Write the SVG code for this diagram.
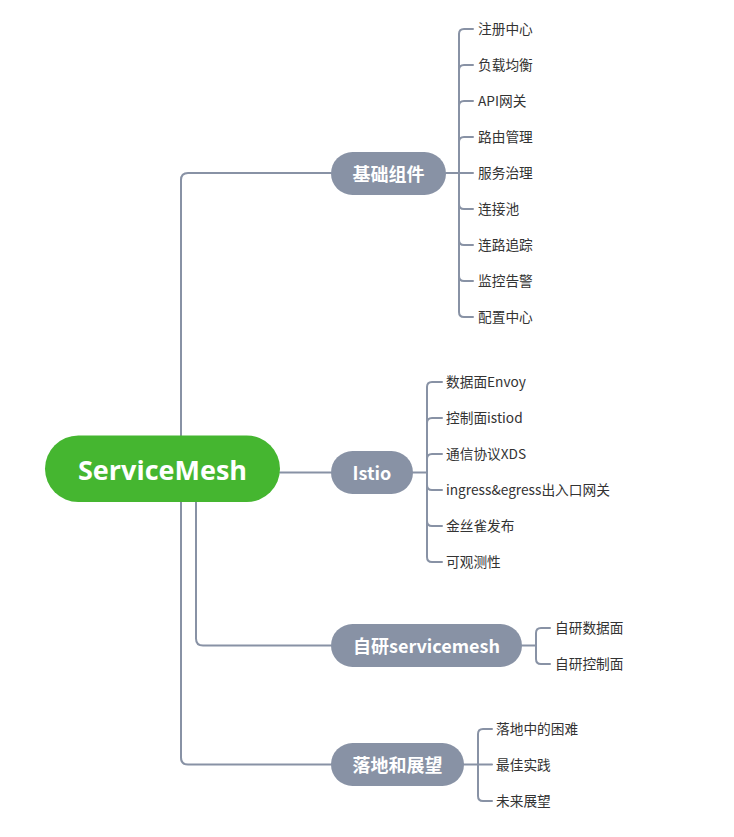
<svg xmlns="http://www.w3.org/2000/svg" width="734" height="837" viewBox="0 0 734 837">
<style>
.ln{fill:none;stroke:#8892a5;stroke-width:2;stroke-linecap:round}
.br{fill:#8892a5}
.bt{font-family:"Noto Sans CJK SC","Noto Sans",sans-serif;font-weight:bold;font-size:18px;fill:#fff;text-anchor:middle;dominant-baseline:central}
.lf{font-family:"Noto Sans CJK SC","Noto Sans",sans-serif;font-size:13.7px;fill:#333;dominant-baseline:central}
.rt{font-family:"Open Sans","Noto Sans",sans-serif;font-weight:bold;font-size:27px;fill:#fff;text-anchor:middle;dominant-baseline:central}
</style>
<rect width="734" height="837" fill="#fff"/>
<g id="connectors">
<path class="ln" d="M181 436 V180 Q181 173 188 173 H331"/>
<path class="ln" d="M280 472.5 H331"/>
<path class="ln" d="M196 502 V638.5 Q196 645.5 203 645.5 H331"/>
<path class="ln" d="M181 502 V757.5 Q181 764.5 188 764.5 H331"/>
<path class="ln" d="M446 173 H459"/>
<path class="ln" d="M459 173 V34 Q459 29 464 29 H473"/>
<path class="ln" d="M459 173 V70 Q459 65 464 65 H473"/>
<path class="ln" d="M459 173 V106 Q459 101 464 101 H473"/>
<path class="ln" d="M459 173 V142 Q459 137 464 137 H473"/>
<path class="ln" d="M459 173 H473"/>
<path class="ln" d="M459 173 V204 Q459 209 464 209 H473"/>
<path class="ln" d="M459 173 V240 Q459 245 464 245 H473"/>
<path class="ln" d="M459 173 V276 Q459 281 464 281 H473"/>
<path class="ln" d="M459 173 V312 Q459 317 464 317 H473"/>
<path class="ln" d="M413 472.5 H427"/>
<path class="ln" d="M427 472.5 V387 Q427 382 432 382 H442"/>
<path class="ln" d="M427 472.5 V423 Q427 418 432 418 H442"/>
<path class="ln" d="M427 472.5 V459 Q427 454 432 454 H442"/>
<path class="ln" d="M427 472.5 V485 Q427 490 432 490 H442"/>
<path class="ln" d="M427 472.5 V521 Q427 526 432 526 H442"/>
<path class="ln" d="M427 472.5 V557 Q427 562 432 562 H442"/>
<path class="ln" d="M522 645.5 H536"/>
<path class="ln" d="M536 645.5 V633 Q536 628 541 628 H550"/>
<path class="ln" d="M536 645.5 V659 Q536 664 541 664 H550"/>
<path class="ln" d="M464 764.5 H478"/>
<path class="ln" d="M478 764.5 V734 Q478 729 483 729 H492"/>
<path class="ln" d="M478 764.5 H492"/>
<path class="ln" d="M478 764.5 V796 Q478 801 483 801 H492"/>
</g>
<g id="root">
<rect x="45" y="435.5" width="235" height="66.5" rx="33.25" fill="#45b630"/>
<text class="rt" x="162.5" y="469">ServiceMesh</text>
</g>
<g id="branch-basic">
<rect class="br" x="331" y="152" width="115" height="43" rx="21.5"/>
<text class="bt" x="388.5" y="172.5">基础组件</text>
</g>
<g id="branch-istio">
<rect class="br" x="331" y="451" width="82" height="43" rx="21.5"/>
<text class="bt" x="372" y="471.5">Istio</text>
</g>
<g id="branch-self">
<rect class="br" x="331" y="624" width="191" height="43" rx="21.5"/>
<text class="bt" x="426.5" y="644.5">自研servicemesh</text>
</g>
<g id="branch-landing">
<rect class="br" x="331" y="743" width="133" height="43" rx="21.5"/>
<text class="bt" x="397.5" y="763.5">落地和展望</text>
</g>
<g id="leaves-basic">
<text class="lf" x="478" y="27.5">注册中心</text>
<text class="lf" x="478" y="63.5">负载均衡</text>
<text class="lf" x="478" y="99.5">API网关</text>
<text class="lf" x="478" y="135.5">路由管理</text>
<text class="lf" x="478" y="171.5">服务治理</text>
<text class="lf" x="478" y="207.5">连接池</text>
<text class="lf" x="478" y="243.5">连路追踪</text>
<text class="lf" x="478" y="279.5">监控告警</text>
<text class="lf" x="478" y="315.5">配置中心</text>
</g>
<g id="leaves-istio">
<text class="lf" x="446" y="380.5">数据面Envoy</text>
<text class="lf" x="446" y="416.5">控制面istiod</text>
<text class="lf" x="446" y="452.5">通信协议XDS</text>
<text class="lf" x="446" y="488.5">ingress&amp;egress出入口网关</text>
<text class="lf" x="446" y="524.5">金丝雀发布</text>
<text class="lf" x="446" y="560.5">可观测性</text>
</g>
<g id="leaves-self">
<text class="lf" x="555" y="626.5">自研数据面</text>
<text class="lf" x="555" y="662.5">自研控制面</text>
</g>
<g id="leaves-landing">
<text class="lf" x="496" y="727.5">落地中的困难</text>
<text class="lf" x="496" y="763.5">最佳实践</text>
<text class="lf" x="496" y="799.5">未来展望</text>
</g>
</svg>
